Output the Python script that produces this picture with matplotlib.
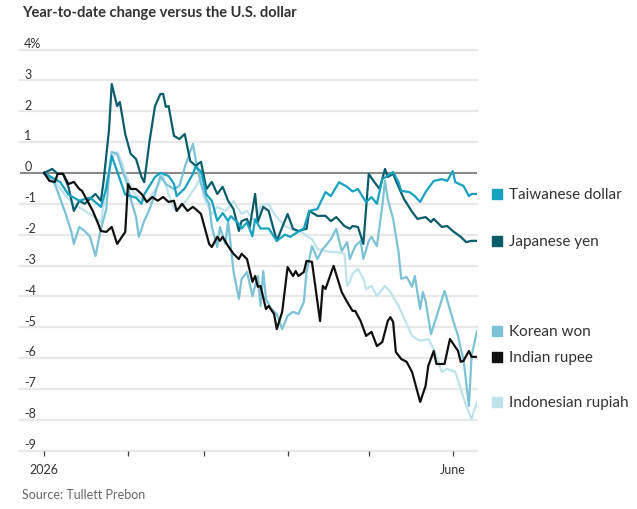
import numpy as np
import pandas as pd
import matplotlib
matplotlib.use("Agg")
import matplotlib.pyplot as plt

plt.rcParams['font.family'] = ['Lato', 'DejaVu Sans']

# Data: days since Jan 1 2026, % change vs USD
twd_days = [0, 6, 9, 13, 17, 21, 23, 25, 28, 30, 34, 36, 37, 41, 43, 46, 48, 49, 52, 55, 56, 58,
            60, 62, 64, 66, 68, 69, 72, 73, 75, 77, 78, 80, 83, 86, 89, 91, 94, 96, 98, 101,
            104, 106, 109, 112, 114, 116, 119, 121, 123, 125, 128, 129, 131, 132, 135, 137,
            139, 141, 144, 147, 149, 151, 152, 155, 157, 158, 160]
twd_vals = [0, -0.3, -0.7, -0.9, -0.8, -1.1, -0.5, 0.55, -0.2, -0.7, -0.8, -1.0, -0.7, -0.13, 0,
            -0.1, -0.35, -0.75, -0.5, -0.03, 0.2, 0.05, -0.7, -0.9, -1.55, -1.3, -1.55, -1.4,
            -1.65, -1.8, -1.6, -2.05, -1.5, -1.8, -1.8, -2.2, -2.0, -2.07, -1.9, -1.8, -1.23,
            -1.17, -0.62, -0.75, -0.3, -0.45, -0.6, -0.52, -0.95, -0.78, -1.0, -0.2, -0.03,
            0.03, -0.3, -0.58, -0.62, -0.75, -0.94, -0.62, -0.26, -0.2, -0.26, 0.06, -0.3,
            -0.42, -0.75, -0.68, -0.68]

jpy_days = [0, 3, 5, 7, 9, 11, 13, 15, 17, 19, 21, 22, 24, 25, 27, 28, 30, 32, 34, 36, 37, 39,
            41, 43, 44, 45, 46, 48, 50, 52, 54, 56, 58, 60, 62, 64, 66, 68, 70, 72, 73, 75, 76,
            78, 79, 81, 83, 86, 90, 92, 94, 97, 98, 101, 104, 106, 108, 111, 113, 114, 116,
            118, 120, 122, 124, 126, 127, 129, 131, 133, 136, 138, 141, 143, 144, 147, 149,
            151, 154, 156, 158, 160]
jpy_vals = [0, 0.13, -0.03, -0.03, -0.45, -1.23, -0.9, -1.0, -0.84, -0.68, -0.9, -0.26, 1.4,
            2.88, 2.17, 2.3, 1.26, 0.62, 0.45, -0.13, -0.3, 1.04, 2.17, 2.56, 2.56, 2.14, 2.17,
            1.2, 1.1, 1.26, 0.39, 0.23, 0.36, -0.52, -0.29, -0.68, -0.45, -0.9, -1.17, -1.88,
            -1.56, -1.49, -1.75, -0.68, -1.59, -1.1, -1.23, -2.2, -1.33, -1.81, -1.88, -1.81,
            -1.23, -1.39, -1.39, -1.56, -1.43, -1.72, -1.81, -1.72, -1.75, -2.3, -0.03, -0.29,
            -0.52, 0.13, -0.13, -0.03, -0.45, -0.84, -1.26, -1.49, -1.43, -1.59, -1.49, -1.75,
            -1.72, -1.88, -2.07, -2.24, -2.2, -2.2]

krw_days = [0, 4, 8, 10, 11, 13, 15, 17, 19, 21, 23, 24, 25, 27, 29, 31, 32, 34, 35, 37, 39,
            41, 43, 45, 48, 50, 52, 55, 56, 58, 60, 61, 62, 64, 65, 67, 68, 70, 72, 73, 75, 77,
            79, 80, 81, 82, 84, 86, 88, 90, 92, 94, 96, 97, 99, 101, 103, 104, 106, 108, 110,
            112, 113, 115, 117, 118, 120, 121, 123, 125, 126, 127, 129, 131, 132, 134, 136,
            137, 139, 140, 141, 143, 145, 148, 151, 153, 154, 155, 157, 158, 160]
krw_vals = [0, -0.36, -1.33, -1.88, -2.3, -1.75, -1.88, -2.07, -2.69, -1.81, -1.17, -0.03,
            0.68, 0.62, 0.06, -0.42, -0.84, -1.43, -2.07, -1.56, -1.17, -0.68, -0.1, -0.36,
            -0.52, -0.42, 0.19, 0.94, 0.45, -0.36, -0.84, -1.0, -1.75, -2.4, -1.75, -2.3,
            -1.56, -3.18, -4.08, -3.43, -3.21, -3.99, -3.34, -4.31, -3.18, -4.08, -4.41, -4.57,
            -5.06, -4.63, -4.5, -4.57, -4.18, -3.21, -2.37, -2.79, -2.46, -2.37, -2.14, -1.81,
            -2.53, -2.24, -2.79, -2.37, -2.2, -2.79, -2.2, -2.07, -2.37, -1.07, -0.25, -0.84,
            -1.49, -2.56, -3.43, -3.37, -3.69, -3.34, -4.41, -3.86, -4.15, -5.22, -4.67, -3.82,
            -4.73, -5.28, -5.7, -6.03, -7.55, -5.93, -5.12]

inr_days = [0, 2, 4, 5, 7, 9, 11, 13, 14, 16, 18, 20, 21, 23, 25, 27, 29, 30, 31, 32, 34, 36,
            38, 40, 42, 44, 46, 48, 49, 51, 53, 55, 56, 58, 61, 62, 64, 65, 66, 68, 70, 72, 73,
            75, 77, 78, 79, 80, 82, 83, 85, 86, 88, 90, 92, 93, 94, 96, 97, 99, 102, 103, 104,
            107, 110, 112, 114, 115, 117, 119, 121, 123, 125, 127, 128, 129, 130, 132, 134,
            136, 139, 141, 142, 144, 145, 148, 150, 152, 153, 154, 155, 157, 158, 160]
inr_vals = [0, -0.26, -0.29, -0.03, -0.03, -0.36, -0.29, -0.52, -0.58, -0.9, -1.23, -1.65,
            -1.88, -1.91, -1.75, -2.3, -2.04, -1.91, -0.36, -0.52, -0.52, -0.68, -0.94, -0.78,
            -0.9, -0.78, -0.94, -0.9, -1.23, -1.0, -1.23, -1.1, -1.17, -1.33, -2.3, -2.4,
            -2.07, -2.2, -2.07, -2.37, -2.62, -2.79, -2.62, -2.79, -3.53, -3.34, -3.69, -3.66,
            -4.41, -4.31, -4.57, -5.06, -4.5, -3.05, -3.34, -3.18, -3.34, -3.21, -2.85, -2.88,
            -4.8, -3.66, -3.76, -3.01, -3.86, -4.18, -4.47, -4.47, -4.8, -5.28, -5.15, -5.61,
            -5.48, -4.8, -4.67, -4.83, -5.8, -6.03, -6.12, -6.45, -7.42, -6.9, -6.25, -5.77,
            -6.19, -6.19, -5.38, -5.64, -5.77, -6.12, -6.09, -5.77, -5.96, -5.96]

idr_days = [0, 4, 8, 11, 14, 18, 21, 22, 23, 25, 27, 29, 30, 33, 35, 38, 40, 42, 44, 46, 48,
            49, 51, 53, 56, 58, 59, 62, 64, 67, 69, 70, 73, 75, 78, 80, 83, 85, 89, 93, 95, 97,
            99, 101, 104, 106, 108, 111, 112, 113, 114, 116, 118, 119, 121, 123, 126, 128, 131,
            134, 136, 139, 142, 144, 147, 149, 152, 154, 156, 158, 160]
idr_vals = [0, -0.26, -0.75, -1.0, -1.17, -1.39, -1.59, -1.0, -0.29, 0.45, 0.68, 0.29, -0.03,
            -0.62, -0.78, -0.94, -0.68, -0.42, -0.1, -0.68, -1.17, -1.23, -1.07, -0.84, -0.45,
            -0.13, -0.78, -1.33, -1.1, -1.23, -1.04, -0.91, -1.33, -1.23, -1.59, -1.07, -1.0,
            -1.33, -1.72, -1.88, -1.91, -2.04, -2.14, -2.46, -2.53, -2.56, -2.56, -2.62, -3.66,
            -3.53, -3.27, -3.11, -3.43, -3.76, -3.66, -3.99, -3.66, -3.86, -4.31, -4.89, -5.28,
            -5.44, -5.38, -5.7, -6.45, -6.35, -6.45, -7.0, -7.55, -7.97, -7.42]

names = ["Taiwanese dollar", "Japanese yen", "Korean won", "Indian rupee", "Indonesian rupiah"]
colors = ["#17a2bf", "#0b5d6b", "#7cc2d6", "#111111", "#bfe2ec"]

yticks = [4, 3, 2, 1, 0, -1, -2, -3, -4, -5, -6, -7, -8, -9]
ytick_labels = ["4%"] + [str(v) for v in yticks[1:]]
month_days = [0, 31, 59, 90, 120, 151]
month_labels = ["2026", "", "", "", "", "June"]

start = pd.Timestamp("2026-01-01")
def to_dates(days):
    return start + pd.to_timedelta(days, unit="D")

series = [(twd_days, twd_vals), (jpy_days, jpy_vals), (krw_days, krw_vals),
          (inr_days, inr_vals), (idr_days, idr_vals)]

fig = plt.figure(figsize=(6.37, 5.10), dpi=100)
ax = fig.add_axes([20/637, (510-451.7)/510, 457/637, (451.7-50.5)/510])

# gridlines
for v in yticks:
    if v == 0:
        continue
    ax.axhline(v, color="#e8e8e8", lw=1.6, zorder=0, clip_on=False)
ax.axhline(0, color="#8a8a8a", lw=1.5, zorder=1)

# lines, lightest first
order = [4, 2, 1, 0, 3]
for i in order:
    d, v = series[i]
    ax.plot(to_dates(d), v, color=colors[i], lw=1.6, zorder=2 + order.index(i),
            solid_joinstyle="round")

ax.set_ylim(-9, 4)
ax.set_xlim(start - pd.Timedelta(days=8.9), to_dates([160])[0])

for s in ax.spines.values():
    s.set_visible(False)
ax.set_yticks([])
ax.set_xticks(to_dates(month_days))
ax.set_xticklabels(month_labels, fontsize=9, color="#333333")
ax.tick_params(axis="x", length=3.5, width=0.9, color="#444444", pad=5)

for v, lbl in zip(yticks, ytick_labels):
    ax.annotate(lbl, xy=(0, v), xycoords=("axes fraction", "data"), xytext=(3, 0.5),
                textcoords="offset points", ha="left", va="bottom", fontsize=9,
                color="#333333")

# end labels
for i, (d, v) in enumerate(series):
    y = v[-1]
    ax.scatter([1.0438], [y], marker="s", s=48, color=colors[i],
               transform=ax.get_yaxis_transform(), clip_on=False, zorder=10)
    ax.annotate(names[i], xy=(1.07, y), xycoords=("axes fraction", "data"),
                ha="left", va="center", fontsize=11, color="#333333")

fig.text(22/637, 1 - 13/510, "Year-to-date change versus the U.S. dollar",
         ha="left", va="center", fontsize=10.5, fontweight="bold", color="#333333")
fig.text(22/637, 1 - 495/510, "Source: Tullett Prebon", ha="left", va="center",
         fontsize=9, color="#666666")

fig.savefig("out.png", dpi=100)
